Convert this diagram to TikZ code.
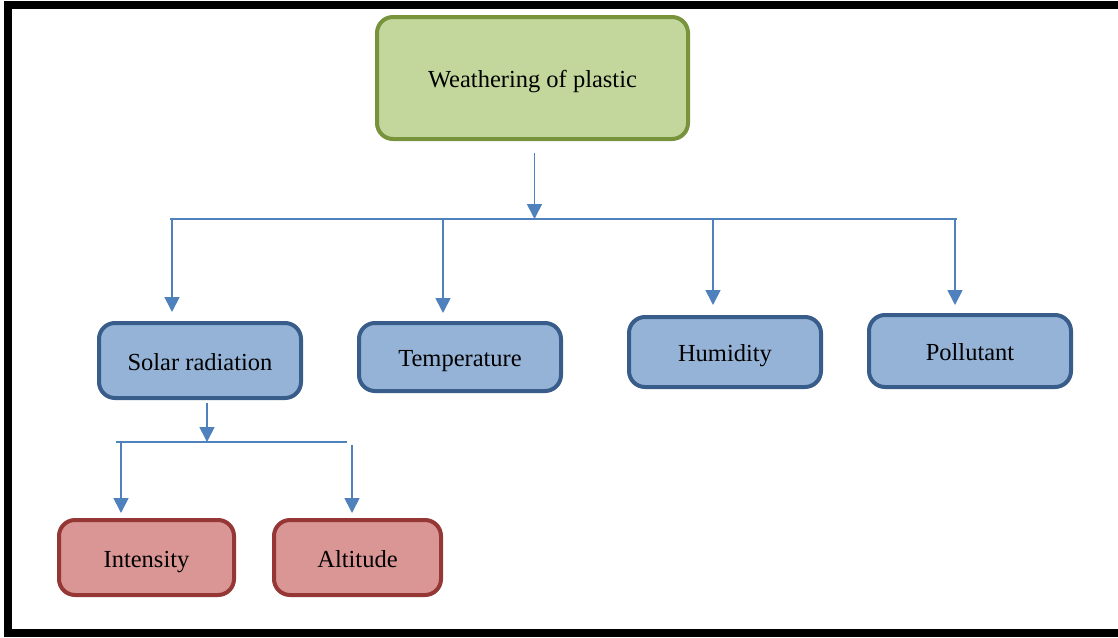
\documentclass[tikz,border=0pt]{standalone}
\usepackage{fontspec}
\setmainfont{Liberation Serif}
\usetikzlibrary{arrows.meta,calc}
\definecolor{gfill}{HTML}{C3D69B}
\definecolor{gdraw}{HTML}{77933C}
\definecolor{bfill}{HTML}{95B3D7}
\definecolor{bdraw}{HTML}{385D8A}
\definecolor{rfill}{HTML}{D99694}
\definecolor{rdraw}{HTML}{953735}
\definecolor{lineblue}{HTML}{4F81BD}
\tikzset{
  box/.style={rectangle, rounded corners=16, line width=4, inner sep=0, font=\fontsize{24.5}{28}\selectfont, text=black, text height=21pt, text depth=2pt},
  gbox/.style={box, fill=gfill, draw=gdraw},
  bbox/.style={box, fill=bfill, draw=bdraw},
  rbox/.style={box, fill=rfill, draw=rdraw},
  bus/.style={draw=lineblue, line width=1.7},
  arr/.style={bus, -{Triangle[width=15pt,length=15pt]}},
}
\begin{document}
\begin{tikzpicture}[x=1pt,y=-1pt]
\useasboundingbox (0,0) rectangle (1118,637);
% frame
\fill[black] (4,1) rectangle (1118,9);
\fill[black] (4,1) rectangle (12,637);
\fill[black] (4,629) rectangle (1118,637);
% nodes
\node[gbox, minimum width=311, minimum height=122] (top) at (532.5,78) {Weathering of plastic};
\node[bbox, minimum width=202, minimum height=75] (solar) at (200,360.5) {Solar radiation};
\node[bbox, minimum width=202, minimum height=68] (temp) at (460,357) {Temperature};
\node[bbox, minimum width=192, minimum height=70] (hum) at (725,352) {Humidity};
\node[bbox, minimum width=202, minimum height=72] (pol) at (970,351) {Pollutant};
\node[rbox, minimum width=175, minimum height=75] (int) at (146.5,557.5) {Intensity};
\node[rbox, minimum width=167, minimum height=75] (alt) at (357.5,557.5) {Altitude};
% top bus
\coordinate (busL) at (170,219);
\coordinate (busR) at (957,219);
\coordinate (tb) at (534.5,219);
\draw[bus] (busL) -- (busR);
\draw[arr, shorten <=12] (top.south -| tb) -- (tb);
\coordinate (b1) at (172,219);
\coordinate (b2) at (443,219);
\coordinate (b3) at (713,219);
\coordinate (b4) at (955,219);
\draw[arr, shorten >=9] (b1) -- (b1 |- solar.north);
\draw[arr, shorten >=8] (b2) -- (b2 |- temp.north);
\draw[arr, shorten >=10] (b3) -- (b3 |- hum.north);
\draw[arr, shorten >=8] (b4) -- (b4 |- pol.north);
% lower bus
\coordinate (sL) at (116,442);
\coordinate (sR) at (347,442);
\coordinate (sb) at (207,442);
\draw[bus] (sL) -- (sR);
\draw[arr, shorten <=3] (solar.south -| sb) -- (sb);
\coordinate (c1) at (121,442);
\coordinate (c2) at (352,445);
\draw[arr, shorten >=5] (c1) -- (c1 |- int.north);
\draw[arr, shorten >=5] (c2) -- (c2 |- alt.north);
\end{tikzpicture}
\end{document}
